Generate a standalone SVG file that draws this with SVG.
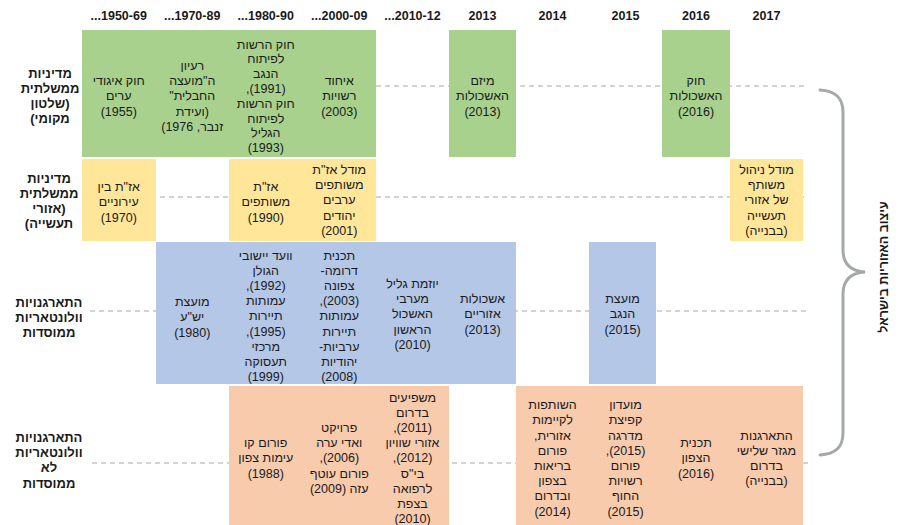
<svg xmlns="http://www.w3.org/2000/svg" width="909" height="525" viewBox="0 0 909 525">
<style>
text{font-family:"Liberation Sans","DejaVu Sans",sans-serif;fill:#1a1a1a}
.hd{font-size:12.5px;font-weight:bold;text-anchor:middle}
.rl{font-size:13px;font-weight:bold;text-anchor:middle;direction:rtl;unicode-bidi:embed}
.bx{font-size:12.5px;text-anchor:middle;direction:rtl;unicode-bidi:embed}
.g{fill:#a9d18e}.y{fill:#ffe699}.b{fill:#b4c7e7}.o{fill:#f8cbad}
.dash{stroke:#a6a6a6;stroke-width:1;stroke-dasharray:5 4;fill:none}
.brace{stroke:#a5a9a8;stroke-width:3;fill:none;stroke-linecap:round}
</style>
<rect width="909" height="525" fill="#ffffff"/>

<g id="header">
<text class="hd" x="118.75" y="19.5">...1950-69</text>
<text class="hd" x="192.25" y="19.5">...1970-89</text>
<text class="hd" x="265.75" y="19.5">...1980-90</text>
<text class="hd" x="339.25" y="19.5">...2000-09</text>
<text class="hd" x="412.5" y="19.5">...2010-12</text>
<text class="hd" x="482.5" y="19.5">2013</text>
<text class="hd" x="552.5" y="19.5">2014</text>
<text class="hd" x="625.5" y="19.5">2015</text>
<text class="hd" x="696" y="19.5">2016</text>
<text class="hd" x="766.5" y="19.5">2017</text>
</g>

<g id="connectors">
<line class="dash" x1="88" y1="86" x2="808" y2="86"/>
<line class="dash" x1="88" y1="197" x2="808" y2="197"/>
<line class="dash" x1="90" y1="311" x2="808" y2="311"/>
<line class="dash" x1="92" y1="463" x2="808" y2="463"/>
<path class="brace" d="M820,90 C836,91 843,98 843,112 L843,250 C843,264 850,271 865,272 C850,273 843,280 843,294 L843,433 C843,447 836,454 820,455"/>
</g>

<g id="row-labels">
<text class="rl" x="50" y="77.5">מדיניות</text>
<text class="rl" x="50" y="92.5">ממשלתית</text>
<text class="rl" x="50" y="107.5">(שלטון</text>
<text class="rl" x="50" y="122.5">מקומי)</text>
<text class="rl" x="49" y="182.5">מדיניות</text>
<text class="rl" x="49" y="197.5">ממשלתית</text>
<text class="rl" x="49" y="212.5">(אזורי</text>
<text class="rl" x="49" y="227.5">תעשייה)</text>
<text class="rl" x="49" y="306.5">התארגנויות</text>
<text class="rl" x="49" y="321.5">וולונטאריות</text>
<text class="rl" x="49" y="336.5">ממוסדות</text>
<text class="rl" x="49" y="441.5">התארגנויות</text>
<text class="rl" x="49" y="456.5">וולונטאריות</text>
<text class="rl" x="49" y="471.5">לא</text>
<text class="rl" x="49" y="487.5">ממוסדות</text>
</g>

<g id="green-local-1950-2009">
<rect class="g" x="82" y="30" width="294" height="127"/>
<text class="bx" x="118.75" y="85.1">חוק איגודי</text>
<text class="bx" x="118.75" y="100.3">ערים</text>
<text class="bx" x="118.75" y="115.5">(1955)</text>
<text class="bx" x="192.25" y="69.9">רעיון</text>
<text class="bx" x="192.25" y="85.1">ה"מועצה</text>
<text class="bx" x="192.25" y="100.3">החבלית"</text>
<text class="bx" x="192.25" y="115.5">(ועידת</text>
<text class="bx" x="192.25" y="130.7">זנבר, 1976)</text>
<text class="bx" x="265.75" y="48.5">חוק הרשות</text>
<text class="bx" x="265.75" y="63.3">לפיתוח</text>
<text class="bx" x="265.75" y="78.1">הנגב</text>
<text class="bx" x="265.75" y="92.9">(1991),</text>
<text class="bx" x="265.75" y="107.7">חוק הרשות</text>
<text class="bx" x="265.75" y="122.5">לפיתוח</text>
<text class="bx" x="265.75" y="137.3">הגליל</text>
<text class="bx" x="265.75" y="152.1">(1993)</text>
<text class="bx" x="339.25" y="85.1">איחוד</text>
<text class="bx" x="339.25" y="100.3">רשויות</text>
<text class="bx" x="339.25" y="115.5">(2003)</text>
</g>

<g id="green-2013">
<rect class="g" x="449" y="30" width="67" height="127"/>
<text class="bx" x="482.5" y="85.1">מיזם</text>
<text class="bx" x="482.5" y="100.3">האשכולות</text>
<text class="bx" x="482.5" y="115.5">(2013)</text>
</g>

<g id="green-2016">
<rect class="g" x="662" y="30" width="68" height="127"/>
<text class="bx" x="696" y="85.1">חוק</text>
<text class="bx" x="696" y="100.3">האשכולות</text>
<text class="bx" x="696" y="115.5">(2016)</text>
</g>

<g id="yellow-1970">
<rect class="y" x="82" y="159" width="74" height="82"/>
<text class="bx" x="118.75" y="191.1">אז"ת בין</text>
<text class="bx" x="118.75" y="206.3">עירוניים</text>
<text class="bx" x="118.75" y="221.5">(1970)</text>
</g>

<g id="yellow-1990-2001">
<rect class="y" x="229" y="159" width="147" height="82"/>
<text class="bx" x="265.75" y="191.1">אז"ת</text>
<text class="bx" x="265.75" y="206.3">משותפים</text>
<text class="bx" x="265.75" y="221.5">(1990)</text>
<text class="bx" x="339.25" y="173.9">מודל אז"ת</text>
<text class="bx" x="339.25" y="189.1">משותפים</text>
<text class="bx" x="339.25" y="204.3">ערבים</text>
<text class="bx" x="339.25" y="219.5">יהודים</text>
<text class="bx" x="339.25" y="234.7">(2001)</text>
</g>

<g id="yellow-2017">
<rect class="y" x="730" y="159" width="73" height="82"/>
<text class="bx" x="766.5" y="173.9">מודל ניהול</text>
<text class="bx" x="766.5" y="189.1">משותף</text>
<text class="bx" x="766.5" y="204.3">של אזורי</text>
<text class="bx" x="766.5" y="219.5">תעשייה</text>
<text class="bx" x="766.5" y="234.7">(בבנייה)</text>
</g>

<g id="blue-1980-2013">
<rect class="b" x="156" y="242" width="360" height="142"/>
<text class="bx" x="192.25" y="306.1">מועצת</text>
<text class="bx" x="192.25" y="321.3">יש"ע</text>
<text class="bx" x="192.25" y="336.5">(1980)</text>
<text class="bx" x="265.75" y="259.5">וועד יישובי</text>
<text class="bx" x="265.75" y="274.7">הגולן</text>
<text class="bx" x="265.75" y="289.9">(1992),</text>
<text class="bx" x="265.75" y="305.1">עמותות</text>
<text class="bx" x="265.75" y="320.3">תיירות</text>
<text class="bx" x="265.75" y="335.5">(1995),</text>
<text class="bx" x="265.75" y="350.7">מרכזי</text>
<text class="bx" x="265.75" y="365.9">תעסוקה</text>
<text class="bx" x="265.75" y="381.1">(1999)</text>
<text class="bx" x="339.25" y="259.5">תכנית</text>
<text class="bx" x="339.25" y="274.7">דרומה-</text>
<text class="bx" x="339.25" y="289.9">צפונה</text>
<text class="bx" x="339.25" y="305.1">(2003),</text>
<text class="bx" x="339.25" y="320.3">עמותות</text>
<text class="bx" x="339.25" y="335.5">תיירות</text>
<text class="bx" x="339.25" y="350.7">ערביות-</text>
<text class="bx" x="339.25" y="365.9">יהודיות</text>
<text class="bx" x="339.25" y="381.1">(2008)</text>
<text class="bx" x="412.5" y="287.9">יוזמת גליל</text>
<text class="bx" x="412.5" y="303.1">מערבי</text>
<text class="bx" x="412.5" y="318.3">האשכול</text>
<text class="bx" x="412.5" y="333.5">הראשון</text>
<text class="bx" x="412.5" y="348.7">(2010)</text>
<text class="bx" x="482.5" y="303.1">אשכולות</text>
<text class="bx" x="482.5" y="318.3">אזוריים</text>
<text class="bx" x="482.5" y="333.5">(2013)</text>
</g>

<g id="blue-2015">
<rect class="b" x="589" y="242" width="67" height="142"/>
<text class="bx" x="622.5" y="303.1">מועצת</text>
<text class="bx" x="622.5" y="318.3">הנגב</text>
<text class="bx" x="622.5" y="333.5">(2015)</text>
</g>

<g id="orange-1988-2012">
<rect class="o" x="229" y="386" width="220" height="139"/>
<text class="bx" x="265.75" y="447.1">פורום קו</text>
<text class="bx" x="265.75" y="462.3">עימות צפון</text>
<text class="bx" x="265.75" y="477.5">(1988)</text>
<text class="bx" x="339.25" y="431.9">פרויקט</text>
<text class="bx" x="339.25" y="447.1">ואדי ערה</text>
<text class="bx" x="339.25" y="462.3">(2006),</text>
<text class="bx" x="339.25" y="477.5">פורום עוטף</text>
<text class="bx" x="339.25" y="492.7">עזה (2009)</text>
<text class="bx" x="412.5" y="401.5">משפיעים</text>
<text class="bx" x="412.5" y="416.7">בדרום</text>
<text class="bx" x="412.5" y="431.9">(2011),</text>
<text class="bx" x="412.5" y="447.1">אזורי שוויון</text>
<text class="bx" x="412.5" y="462.3">(2012),</text>
<text class="bx" x="412.5" y="477.5">בי"ס</text>
<text class="bx" x="412.5" y="492.7">לרפואה</text>
<text class="bx" x="412.5" y="507.9">בצפת</text>
<text class="bx" x="412.5" y="523.1">(2010)</text>
</g>

<g id="orange-2014-2017">
<rect class="o" x="516" y="386" width="287" height="139"/>
<text class="bx" x="552.5" y="409.1">השותפות</text>
<text class="bx" x="552.5" y="424.3">לקיימות</text>
<text class="bx" x="552.5" y="439.5">אזורית,</text>
<text class="bx" x="552.5" y="454.7">פורום</text>
<text class="bx" x="552.5" y="469.9">בריאות</text>
<text class="bx" x="552.5" y="485.1">בצפון</text>
<text class="bx" x="552.5" y="500.3">ובדרום</text>
<text class="bx" x="552.5" y="515.5">(2014)</text>
<text class="bx" x="625.5" y="409.1">מועדון</text>
<text class="bx" x="625.5" y="424.3">קפיצת</text>
<text class="bx" x="625.5" y="439.5">מדרגה</text>
<text class="bx" x="625.5" y="454.7">(2015),</text>
<text class="bx" x="625.5" y="469.9">פורום</text>
<text class="bx" x="625.5" y="485.1">רשויות</text>
<text class="bx" x="625.5" y="500.3">החוף</text>
<text class="bx" x="625.5" y="515.5">(2015)</text>
<text class="bx" x="696" y="447.1">תכנית</text>
<text class="bx" x="696" y="462.3">הצפון</text>
<text class="bx" x="696" y="477.5">(2016)</text>
<text class="bx" x="766.5" y="439.5">התארגנות</text>
<text class="bx" x="766.5" y="454.7">מגזר שלישי</text>
<text class="bx" x="766.5" y="469.9">בדרום</text>
<text class="bx" x="766.5" y="485.1">(בבנייה)</text>
</g>

<g id="side-label">
<text class="rl" transform="translate(883,267) rotate(-90)" x="0" y="4.5" style="font-size:12.5px">עיצוב האזוריות בישראל</text>
</g>
</svg>
